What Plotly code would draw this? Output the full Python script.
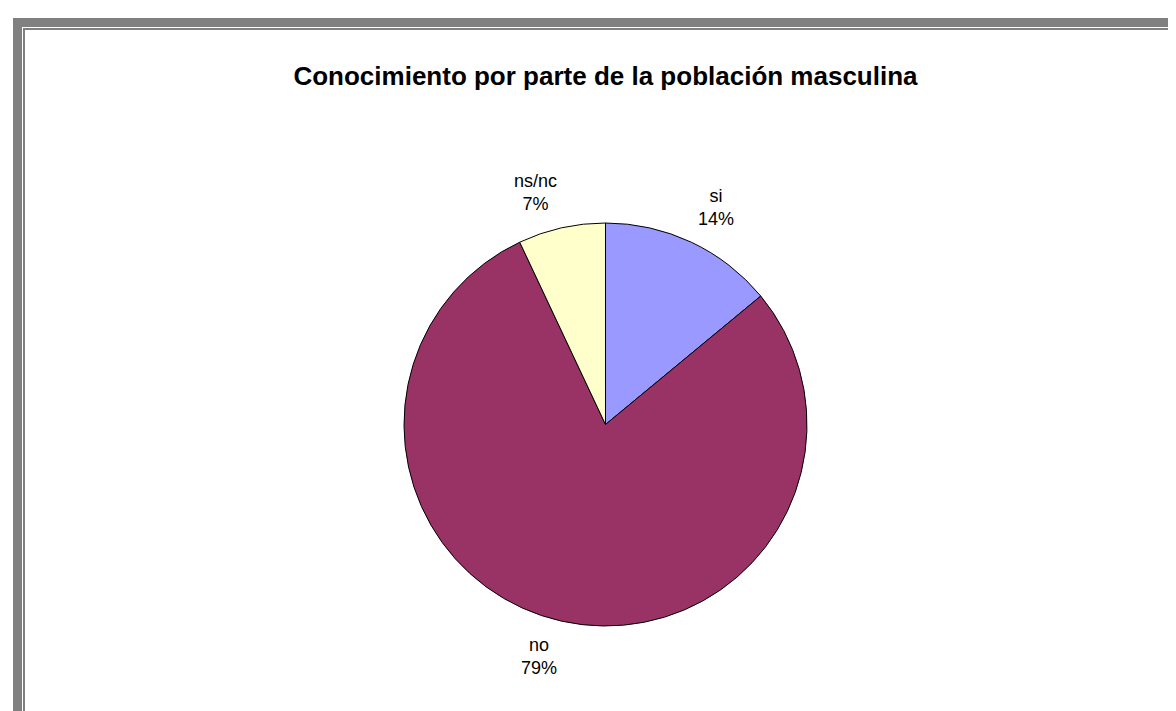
import math
import plotly.graph_objects as go

categories = ["si", "no", "ns/nc"]
values = [14, 79, 7]
colors = ["#9999FF", "#993366", "#FFFFCC"]
title_text = "Conocimiento por parte de la población masculina"

W, H = 1176, 711
def px(x):
    return x / W
def py(y):
    return 1 - y / H

cx, cy, r = 597.5, 416.5, 201.5
FONT = "Arial, Liberation Sans, sans-serif"

fig = go.Figure(go.Pie(
    labels=categories,
    values=values,
    sort=False,
    direction="clockwise",
    rotation=0,
    marker=dict(colors=colors, line=dict(color="black", width=1)),
    textinfo="none",
    showlegend=False,
    hoverinfo="label+percent",
    domain=dict(x=[px(cx - r), px(cx + r)], y=[py(cy + r), py(cy - r)]),
))

# outside-end data labels placed from each slice's mid angle
total = sum(values)
gap = 12
annotations = []
cum = 0
for lab, v in zip(categories, values):
    theta = 2 * math.pi * (cum + v / 2) / total
    cum += v
    s, c = math.sin(theta), math.cos(theta)
    lx = cx + (r + gap) * s
    ly = cy - (r + gap) * c
    annotations.append(dict(
        x=px(lx), y=py(ly), xref="paper", yref="paper",
        text=f"{lab}<br>{round(100 * v / total)}%",
        showarrow=False,
        xanchor="left" if s > 0 else "right",
        yanchor="bottom" if c > 0 else "top",
        align="center",
        font=dict(family=FONT, size=18, color="black"),
    ))

gray = "#808080"
shapes = [
    dict(type="rect", xref="paper", yref="paper", x0=px(5), x1=1.01, y0=py(10), y1=py(19),
         fillcolor=gray, line=dict(width=0), layer="below"),
    dict(type="rect", xref="paper", yref="paper", x0=px(5), x1=px(14), y0=-0.01, y1=py(10),
         fillcolor=gray, line=dict(width=0), layer="below"),
    dict(type="rect", xref="paper", yref="paper", x0=px(15), x1=1.01, y0=py(20), y1=py(22),
         fillcolor=gray, line=dict(width=0), layer="below"),
    dict(type="rect", xref="paper", yref="paper", x0=px(15), x1=px(17), y0=-0.01, y1=py(20),
         fillcolor=gray, line=dict(width=0), layer="below"),
]

fig.update_layout(
    width=W, height=H,
    margin=dict(l=0, r=0, t=0, b=0),
    paper_bgcolor="white",
    plot_bgcolor="white",
    shapes=shapes,
    annotations=annotations,
    title=dict(text="<b>" + title_text + "</b>", x=px(597.5), xanchor="center",
               y=py(68), yanchor="middle", yref="paper",
               font=dict(family=FONT, size=26, color="black")),
)

fig.write_html("out.html")
